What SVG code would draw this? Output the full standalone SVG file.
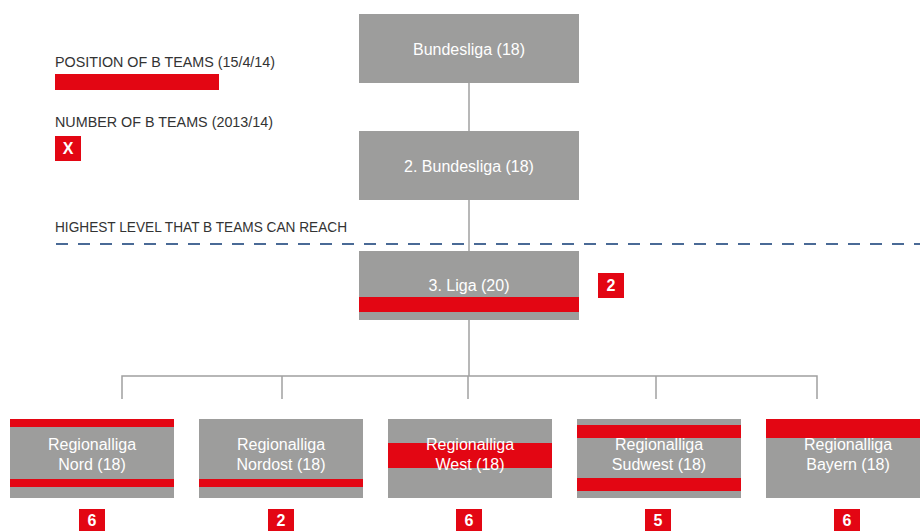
<svg xmlns="http://www.w3.org/2000/svg" width="920" height="531" viewBox="0 0 920 531">
<style>
.box{fill:#9d9d9c}
.red{fill:#e30613}
.bt{font-family:"Liberation Sans",Arial,sans-serif;font-size:16px;fill:#fff;text-anchor:middle}
.lg{font-family:"Liberation Sans",Arial,sans-serif;font-size:15px;fill:#333}
.num{font-family:"Liberation Sans",Arial,sans-serif;font-size:16px;font-weight:bold;fill:#fff;text-anchor:middle}
.con{stroke:#a0a0a0;stroke-width:1.5;fill:none}
</style>
<rect width="920" height="531" fill="#fff"/>
<g id="legend">
<text class="lg" x="55" y="67" textLength="220" lengthAdjust="spacingAndGlyphs">POSITION OF B TEAMS (15/4/14)</text>
<rect class="red" x="55" y="74" width="164" height="16"/>
<text class="lg" x="55" y="127" textLength="218" lengthAdjust="spacingAndGlyphs">NUMBER OF B TEAMS (2013/14)</text>
<rect class="red" x="55" y="136" width="26" height="25"/>
<text class="num" x="68" y="154">X</text>
<text class="lg" x="55" y="232" textLength="292" lengthAdjust="spacingAndGlyphs">HIGHEST LEVEL THAT B TEAMS CAN REACH</text>
<line x1="56" y1="244" x2="920" y2="244" stroke="#4a6a96" stroke-width="2" stroke-dasharray="12 10"/>
</g>
<g id="connectors">
<line class="con" x1="469" y1="83" x2="469" y2="376"/>
<polyline class="con" points="122,399 122,376 817,376 817,399"/>
<line class="con" x1="282" y1="376" x2="282" y2="399"/>
<line class="con" x1="468" y1="376" x2="468" y2="399"/>
<line class="con" x1="656" y1="376" x2="656" y2="399"/>
</g>
<g id="bundesliga">
<rect class="box" x="359" y="14" width="220" height="69"/>
<text class="bt" x="469" y="55">Bundesliga (18)</text>
</g>
<g id="bundesliga2">
<rect class="box" x="359" y="131" width="220" height="69"/>
<text class="bt" x="469" y="172">2. Bundesliga (18)</text>
</g>
<g id="liga3">
<rect class="box" x="359" y="251" width="220" height="69"/>
<rect class="red" x="359" y="297" width="220" height="15"/>
<text class="bt" x="469" y="291">3. Liga (20)</text>
<rect class="red" x="598" y="273" width="26" height="25"/>
<text class="num" x="611" y="291">2</text>
</g>
<g id="nord">
<rect class="box" x="10" y="419" width="164" height="79"/>
<rect class="red" x="10" y="419" width="164" height="8"/>
<rect class="red" x="10" y="479" width="164" height="8"/>
<text class="bt" x="92" y="450">Regionalliga</text>
<text class="bt" x="92" y="470">Nord (18)</text>
<rect class="red" x="79" y="509" width="26" height="22"/>
<text class="num" x="92" y="526">6</text>
</g>
<g id="nordost">
<rect class="box" x="199" y="419" width="164" height="79"/>
<rect class="red" x="199" y="479" width="164" height="8"/>
<text class="bt" x="281" y="450">Regionalliga</text>
<text class="bt" x="281" y="470">Nordost (18)</text>
<rect class="red" x="268" y="509" width="26" height="22"/>
<text class="num" x="281" y="526">2</text>
</g>
<g id="west">
<rect class="box" x="388" y="419" width="164" height="79"/>
<rect class="red" x="388" y="443" width="164" height="25"/>
<text class="bt" x="470" y="450">Regionalliga</text>
<text class="bt" x="470" y="470">West (18)</text>
<rect class="red" x="456" y="509" width="26" height="22"/>
<text class="num" x="469" y="526">6</text>
</g>
<g id="sudwest">
<rect class="box" x="577" y="419" width="164" height="79"/>
<rect class="red" x="577" y="425" width="164" height="13"/>
<rect class="red" x="577" y="478" width="164" height="13"/>
<text class="bt" x="659" y="450">Regionalliga</text>
<text class="bt" x="659" y="470">Sudwest (18)</text>
<rect class="red" x="645" y="509" width="26" height="22"/>
<text class="num" x="658" y="526">5</text>
</g>
<g id="bayern">
<rect class="box" x="766" y="419" width="164" height="79"/>
<rect class="red" x="766" y="419" width="164" height="19"/>
<text class="bt" x="848" y="450">Regionalliga</text>
<text class="bt" x="848" y="470">Bayern (18)</text>
<rect class="red" x="834" y="509" width="26" height="22"/>
<text class="num" x="847" y="526">6</text>
</g>
</svg>
